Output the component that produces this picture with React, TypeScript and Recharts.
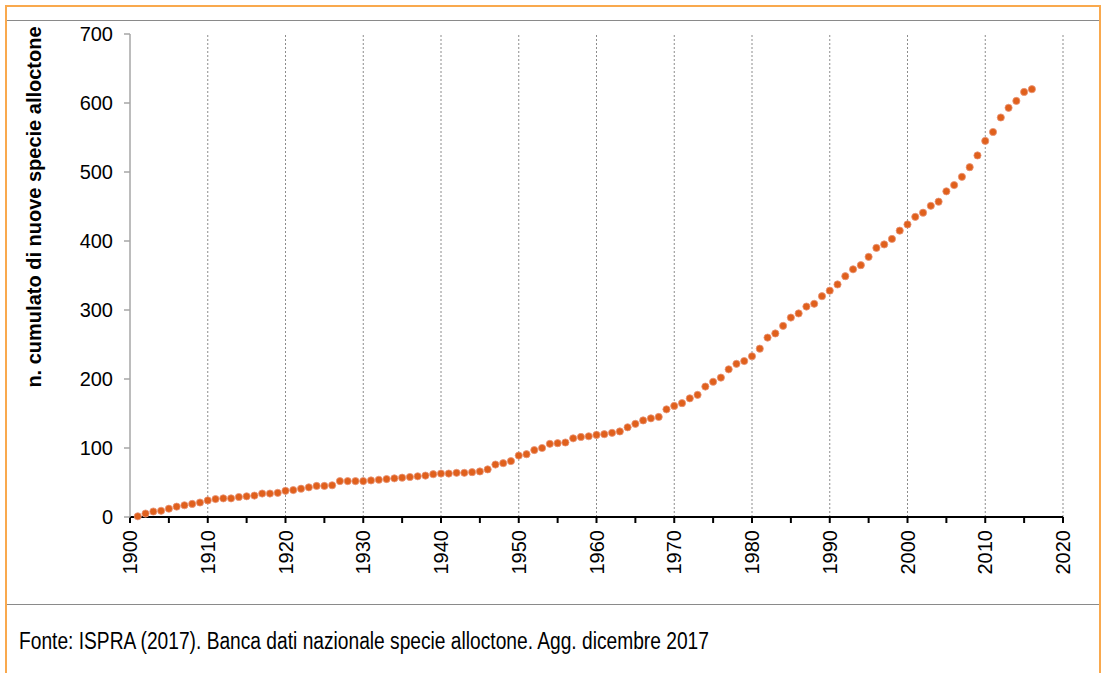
import React from 'react';
import { ComposedChart, Line, XAxis, YAxis, ReferenceLine } from 'recharts';

const years = [
  1901, 1902, 1903, 1904, 1905, 1906, 1907, 1908, 1909, 1910,
  1911, 1912, 1913, 1914, 1915, 1916, 1917, 1918, 1919, 1920,
  1921, 1922, 1923, 1924, 1925, 1926, 1927, 1928, 1929, 1930,
  1931, 1932, 1933, 1934, 1935, 1936, 1937, 1938, 1939, 1940,
  1941, 1942, 1943, 1944, 1945, 1946, 1947, 1948, 1949, 1950,
  1951, 1952, 1953, 1954, 1955, 1956, 1957, 1958, 1959, 1960,
  1961, 1962, 1963, 1964, 1965, 1966, 1967, 1968, 1969, 1970,
  1971, 1972, 1973, 1974, 1975, 1976, 1977, 1978, 1979, 1980,
  1981, 1982, 1983, 1984, 1985, 1986, 1987, 1988, 1989, 1990,
  1991, 1992, 1993, 1994, 1995, 1996, 1997, 1998, 1999, 2000,
  2001, 2002, 2003, 2004, 2005, 2006, 2007, 2008, 2009, 2010,
  2011, 2012, 2013, 2014, 2015, 2016,
];

const cumulativeSpecies = [
  1, 5, 8, 9, 12, 15, 17, 19, 21, 24,
  26, 27, 27, 29, 30, 31, 34, 34, 35, 38,
  39, 41, 43, 45, 45, 46, 52, 52, 52, 52,
  53, 54, 55, 56, 57, 58, 59, 60, 62, 63,
  63, 64, 64, 65, 66, 69, 76, 78, 81, 89,
  91, 97, 100, 106, 107, 108, 114, 116, 117, 119,
  120, 122, 124, 130, 135, 140, 143, 145, 156, 161,
  165, 172, 177, 189, 196, 202, 214, 222, 226, 233,
  244, 260, 266, 277, 289, 295, 305, 309, 320, 328,
  337, 349, 359, 365, 377, 390, 395, 403, 415, 424,
  435, 441, 451, 457, 472, 481, 493, 507, 524, 545,
  558, 579, 593, 603, 616, 620,
];

const xTicks = [
  1900, 1905, 1910, 1915, 1920, 1925, 1930, 1935, 1940, 1945, 1950, 1955,
  1960, 1965, 1970, 1975, 1980, 1985, 1990, 1995, 2000, 2005, 2010, 2015, 2020,
];
const decadeLines = [1910, 1920, 1930, 1940, 1950, 1960, 1970, 1980, 1990, 2000, 2010, 2020];
const yTicks = [0, 100, 200, 300, 400, 500, 600, 700];

const yTitle = 'n. cumulato di nuove specie alloctone';
const sourceNote = 'Fonte: ISPRA (2017). Banca dati nazionale specie alloctone. Agg. dicembre 2017';

const data = years.map((y, i) => ({ year: y, value: cumulativeSpecies[i] }));

const FONT = '"Liberation Sans", Arial, sans-serif';

const XTick = (props: any) => {
  const { x, y, payload } = props;
  const v = payload.value;
  if (v % 10 !== 0) return null;
  return (
    <g transform={`translate(${x},${y})`}>
      <text
        x={0}
        y={0}
        dy="0.36em"
        transform="rotate(-90)"
        textAnchor="end"
        fontSize={20}
        fontFamily={FONT}
        fill="#000"
      >
        {v}
      </text>
    </g>
  );
};

const YTitle = () => (
  <text
    x={34}
    y={207}
    transform="rotate(-90, 34, 207)"
    textAnchor="middle"
    dominantBaseline="central"
    fontSize={20}
    fontWeight="bold"
    fontFamily={FONT}
    fill="#000"
  >
    {yTitle}
  </text>
);

const Dot = (props: any) => {
  const { cx, cy } = props;
  if (cx == null || cy == null) return null;
  return <circle cx={cx} cy={cy} r={3.6} fill="#E0601C" stroke="#E9967A" strokeWidth={0.8} />;
};

export default function App() {
  return (
    <div
      style={{
        position: 'absolute',
        left: 0,
        top: 0,
        width: 1104,
        height: 673,
        overflow: 'hidden',
        background: '#fff',
      }}
    >
      <div
        style={{
          position: 'absolute',
          left: 5,
          top: 5,
          width: 1092,
          height: 700,
          border: '2px solid #F9A94E',
        }}
      />
      <div style={{ position: 'absolute', left: 7, top: 20, width: 1092, height: 1, background: '#8A8A8A' }} />
      <div style={{ position: 'absolute', left: 7, top: 604, width: 1092, height: 1, background: '#8A8A8A' }} />
      <div
        style={{
          position: 'absolute',
          left: 19,
          top: 626,
          fontFamily: FONT,
          fontSize: 23,
          lineHeight: '30px',
          color: '#000',
          whiteSpace: 'nowrap',
          transform: 'scaleX(0.834)',
          transformOrigin: '0 0',
        }}
      >
        {sourceNote}
      </div>
      <div style={{ position: 'absolute', left: 0, top: 0 }}>
        <ComposedChart
          width={1104}
          height={673}
          data={data}
          margin={{ top: 34, right: 41, bottom: 96, left: 0 }}
        >
          {decadeLines.map((d) => (
            <ReferenceLine
              key={d}
              x={d}
              stroke="#8C8C8C"
              strokeWidth={1}
              strokeDasharray="2 2"
              ifOverflow="extendDomain"
            />
          ))}
          <XAxis
            dataKey="year"
            type="number"
            domain={[1900, 2020]}
            ticks={xTicks}
            interval={0}
            height={60}
            tick={<XTick />}
            tickSize={6}
            tickMargin={7}
            axisLine={{ stroke: '#000', strokeWidth: 2 }}
            tickLine={{ stroke: '#000', strokeWidth: 2 }}
          />
          <YAxis
            type="number"
            domain={[0, 700]}
            ticks={yTicks}
            interval={0}
            width={130}
            tickSize={6}
            tickMargin={11}
            axisLine={{ stroke: '#A6A6A6', strokeWidth: 1.5 }}
            tickLine={{ stroke: '#A6A6A6', strokeWidth: 1.5 }}
            tick={{ fontSize: 20, fontFamily: FONT, fill: '#000' }}
            label={<YTitle />}
          />
          <Line
            dataKey="value"
            stroke="none"
            dot={<Dot />}
            activeDot={false}
            isAnimationActive={false}
          />
        </ComposedChart>
      </div>
    </div>
  );
}
